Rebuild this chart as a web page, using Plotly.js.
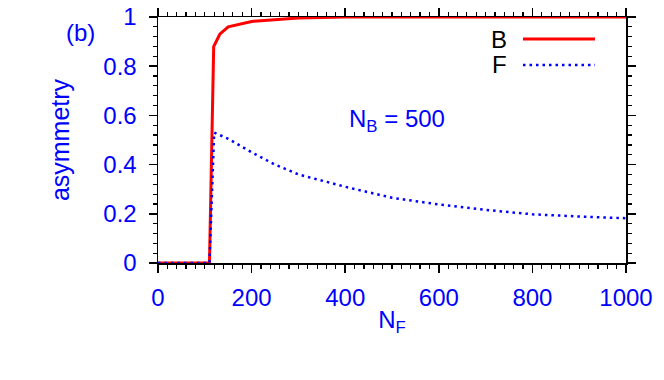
<!DOCTYPE html>
<html>
<head>
<meta charset="utf-8">
<script src="https://cdn.plot.ly/plotly-3.0.1.min.js"></script>
<style>html,body{margin:0;padding:0;background:#fff;}#chart{width:664px;height:380px;}</style>
</head>
<body>
<div id="chart"></div>
<script>
// Series names
const bNames = ["B", "F"];
// Series B (red, solid)
const xB = [0, 50, 100, 110, 119, 132, 150, 200, 300, 400, 500, 600, 700, 800, 900, 1000];
const yB = [0, 0, 0, 0, 0.88, 0.93, 0.96, 0.982, 0.996, 1, 1, 1, 1, 1, 1, 1];
// Series F (blue, dotted)
const xF = [0, 50, 100, 110, 120, 150, 200, 250, 300, 400, 500, 600, 700, 800, 900, 1000];
const yF = [0, 0, 0, 0, 0.53, 0.505, 0.45, 0.40, 0.36, 0.31, 0.265, 0.238, 0.216, 0.198, 0.189, 0.182];
// Tick labels
const xTicks = [0, 200, 400, 600, 800, 1000];
const yTicks = [0, 0.2, 0.4, 0.6, 0.8, 1];
const yTickText = ["0", "0.2", "0.4", "0.6", "0.8", "1"];
const panelLabel = "(b)";
const noteText = "N<sub>B</sub> = 500";
const xTitle = "N<sub>F</sub>";
const yTitle = "asymmetry";

const BLUE = "#0000ff", RED = "#ff0000";
const FONT = "Liberation Sans, Arial, Helvetica, sans-serif";

const traces = [
  {x: xB, y: yB, name: bNames[0], type: "scatter", mode: "lines",
   line: {color: RED, width: 3}, showlegend: false},
  {x: xF, y: yF, name: bNames[1], type: "scatter", mode: "lines",
   line: {color: BLUE, width: 2.5, dash: "2.5px,4px"}, showlegend: false}
];

const axisCommon = {
  showgrid: false, zeroline: false, showline: true, linecolor: "#000", linewidth: 1.5,
  mirror: "ticks", ticks: "outside", ticklen: 8, tickwidth: 1.5, tickcolor: "#000",
  tickfont: {family: FONT, size: 24, color: BLUE}
};

const layout = {
  width: 664, height: 380,
  margin: {l: 158, r: 38, t: 17, b: 117},
  paper_bgcolor: "#fff", plot_bgcolor: "#fff",
  font: {family: FONT, color: BLUE},
  xaxis: Object.assign({}, axisCommon, {
    range: [0, 1000], tickvals: xTicks, ticktext: xTicks.map(String),
    ticklabelstandoff: 5,
    minor: {dtick: 20, tick0: 0, ticks: "outside", ticklen: 4, tickwidth: 1.2, tickcolor: "#000"},
    title: {text: xTitle, font: {family: FONT, size: 24, color: BLUE}, standoff: 1}
  }),
  yaxis: Object.assign({}, axisCommon, {
    range: [0, 1], tickvals: yTicks, ticktext: yTickText,
    ticklabelstandoff: 7,
    minor: {dtick: 0.04, tick0: 0, ticks: "outside", ticklen: 4, tickwidth: 1.2, tickcolor: "#000"},
    title: {text: yTitle, font: {family: FONT, size: 25, color: BLUE}, standoff: 26}
  }),
  annotations: [
    {text: panelLabel, xref: "paper", yref: "paper", x: (80 - 158) / 468, y: (263 - 32) / 246,
     xanchor: "center", yanchor: "middle", showarrow: false, font: {family: FONT, size: 24, color: BLUE}},
    {text: noteText, xref: "paper", yref: "paper", x: (397 - 158) / 468, y: (263 - 120) / 246,
     xanchor: "center", yanchor: "middle", showarrow: false, font: {family: FONT, size: 24, color: BLUE}},
    {text: bNames[0], xref: "paper", yref: "paper", x: (509 - 158) / 468, y: (263 - 39) / 246,
     xanchor: "right", yanchor: "middle", showarrow: false, font: {family: FONT, size: 24, color: "#000"}},
    {text: bNames[1], xref: "paper", yref: "paper", x: (509 - 158) / 468, y: (263 - 65) / 246,
     xanchor: "right", yanchor: "middle", showarrow: false, font: {family: FONT, size: 24, color: "#000"}}
  ],
  shapes: [
    {type: "line", xref: "paper", yref: "paper", x0: (523 - 158) / 468, x1: (595 - 158) / 468,
     y0: (263 - 39) / 246, y1: (263 - 39) / 246, line: {color: RED, width: 3}},
    {type: "line", xref: "paper", yref: "paper", x0: (523 - 158) / 468, x1: (595 - 158) / 468,
     y0: (263 - 65) / 246, y1: (263 - 65) / 246, line: {color: BLUE, width: 2.5, dash: "2.5px,4px"}}
  ]
};

Plotly.newPlot("chart", traces, layout, {staticPlot: true, displayModeBar: false});
</script>
</body>
</html>
